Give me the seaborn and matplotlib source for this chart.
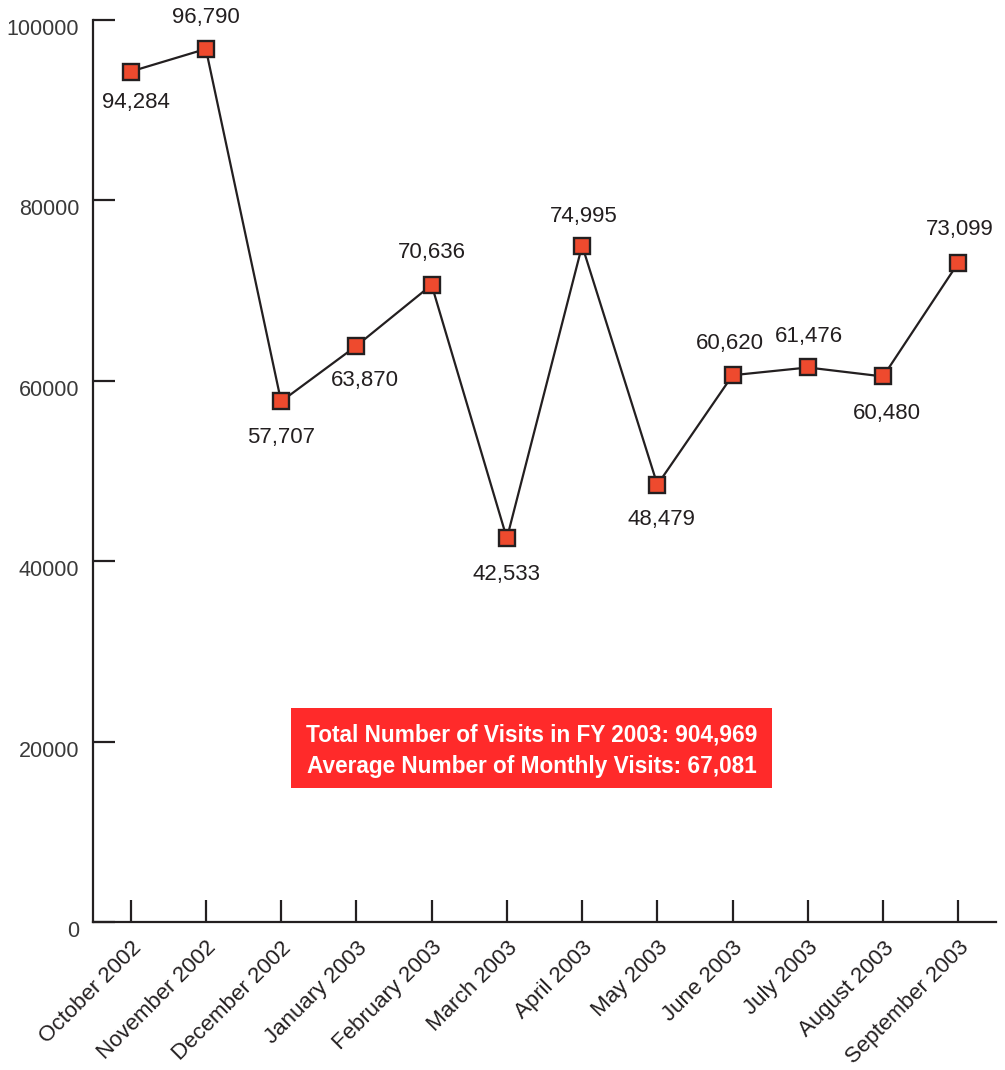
import matplotlib
matplotlib.use("Agg")
import matplotlib.pyplot as plt
from matplotlib.patches import Rectangle
from matplotlib.transforms import ScaledTranslation
import seaborn as sns
import pandas as pd

months = ["October 2002", "November 2002", "December 2002", "January 2003",
          "February 2003", "March 2003", "April 2003", "May 2003",
          "June 2003", "July 2003", "August 2003", "September 2003"]
visits = [94284, 96790, 57707, 63870, 70636, 42533, 74995, 48479,
          60620, 61476, 60480, 73099]
y_ticks = [0, 20000, 40000, 60000, 80000, 100000]
summary_lines = ["Total Number of Visits in FY 2003: 904,969",
                 "Average Number of Monthly Visits: 67,081"]

# where each value label sits relative to its marker (dx, dy in points)
label_offsets = [(4, -22), (0, 23), (0, -26), (6, -25), (0, 23), (0, -26),
                 (1, 21), (3, -25), (-2, 23), (1, 22), (3, -27), (1, 24)]

sns.set_theme(style="white")
plt.rcParams["font.family"] = ["Liberation Sans", "DejaVu Sans"]

df = pd.DataFrame({"pos": range(len(months)), "visits": visits})

fig = plt.figure(figsize=(10.05, 10.70), dpi=100)
W, H = 1005, 1070
ax = fig.add_axes([93 / W, (H - 922) / H, (996 - 93) / W, (922 - 20) / H])

ink = "#231f20"
sns.lineplot(data=df, x="pos", y="visits", ax=ax, color=ink, linewidth=1.6,
             marker="s", markersize=11.5, markerfacecolor="#ee4a2e",
             markeredgecolor=ink, markeredgewidth=1.7, zorder=3)

for i, v in enumerate(visits):
    dx, dy = label_offsets[i]
    ax.annotate(f"{v:,}", (i, v), xytext=(dx, dy), textcoords="offset points",
                ha="center", va="center", fontsize=16, color=ink)

ax.set_xlim(-0.5, len(months) - 0.5)
ax.set_ylim(0, 100000)
ax.set_xticks(range(len(months)))
ax.set_xticklabels(months, rotation=45, ha="right", rotation_mode="anchor",
                   fontsize=16, color=ink)
ax.set_yticks(y_ticks)
ax.set_yticklabels([str(t) for t in y_ticks], fontsize=15.5, color="#3a3a3a")
ax.set_xlabel("")
ax.set_ylabel("")

ax.tick_params(axis="x", bottom=True, direction="in", length=16, width=1.6,
               color=ink, pad=11)
ax.tick_params(axis="y", left=True, direction="in", length=16, width=1.6,
               color=ink, pad=10)
for lab in ax.get_yticklabels():
    lab.set_transform(lab.get_transform() + ScaledTranslation(0, -7 / 100, fig.dpi_scale_trans))

for side in ["top", "right"]:
    ax.spines[side].set_visible(False)
for side in ["left", "bottom"]:
    ax.spines[side].set_color(ink)
    ax.spines[side].set_linewidth(1.6)

# summary box
x0, x1 = (291 - 93) / 903, (772 - 93) / 903
y0, y1 = (922 - 788) / 902, (922 - 708) / 902
ax.add_patch(Rectangle((x0, y0), x1 - x0, y1 - y0, transform=ax.transAxes,
                       facecolor="#ff2a2a", edgecolor="none", zorder=4))
xc = (x0 + x1) / 2
ax.text(xc, (922 - 735) / 902, summary_lines[0], transform=ax.transAxes,
        ha="center", va="center", color="white", fontsize=16.3,
        fontweight="bold", zorder=5)
ax.text(xc, (922 - 766) / 902, summary_lines[1], transform=ax.transAxes,
        ha="center", va="center", color="white", fontsize=16.3,
        fontweight="bold", zorder=5)

fig.savefig("out.png", dpi=100)
